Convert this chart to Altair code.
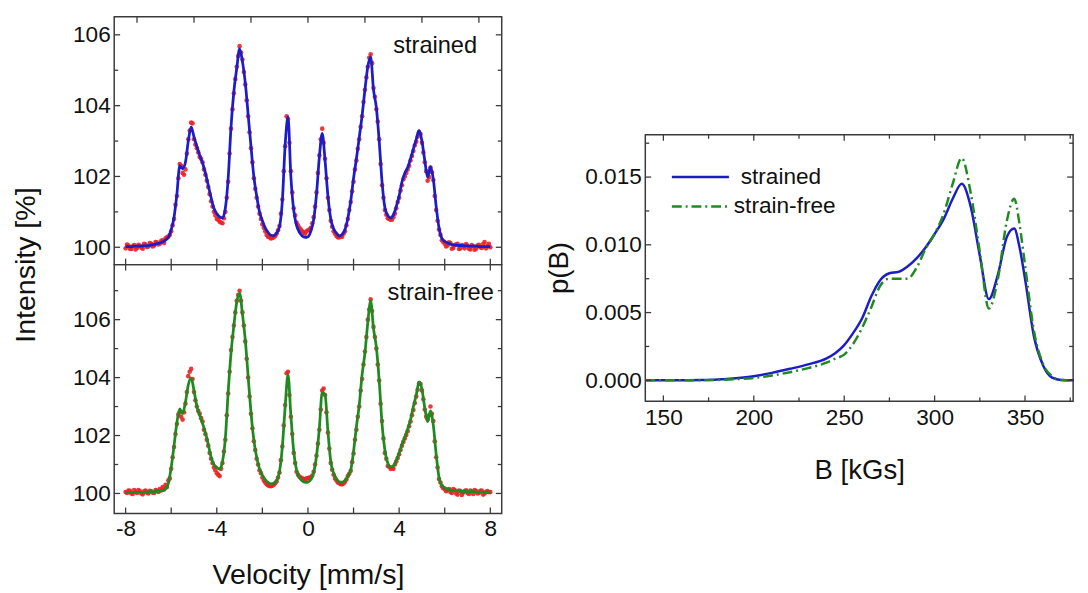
import altair as alt
import pandas as pd

# ---------------- data ----------------
velocity = [
    -8.0, -7.875, -7.75, -7.625, -7.5, -7.375, -7.25, -7.125,
    -7.0, -6.875, -6.75, -6.625, -6.5, -6.375, -6.25, -6.125,
    -6.0, -5.875, -5.75, -5.625, -5.5, -5.375, -5.25, -5.125,
    -5.0, -4.875, -4.75, -4.625, -4.5, -4.375, -4.25, -4.125,
    -4.0, -3.875, -3.75, -3.625, -3.5, -3.375, -3.25, -3.125,
    -3.0, -2.875, -2.75, -2.625, -2.5, -2.375, -2.25, -2.125,
    -2.0, -1.875, -1.75, -1.625, -1.5, -1.375, -1.25, -1.125,
    -1.0, -0.875, -0.75, -0.625, -0.5, -0.375, -0.25, -0.125,
    0.0, 0.125, 0.25, 0.375, 0.5, 0.625, 0.75, 0.875,
    1.0, 1.125, 1.25, 1.375, 1.5, 1.625, 1.75, 1.875,
    2.0, 2.125, 2.25, 2.375, 2.5, 2.625, 2.75, 2.875,
    3.0, 3.125, 3.25, 3.375, 3.5, 3.625, 3.75, 3.875,
    4.0, 4.125, 4.25, 4.375, 4.5, 4.625, 4.75, 4.875,
    5.0, 5.125, 5.25, 5.375, 5.5, 5.625, 5.75, 5.875,
    6.0, 6.125, 6.25, 6.375, 6.5, 6.625, 6.75, 6.875,
    7.0, 7.125, 7.25, 7.375, 7.5, 7.625, 7.75, 7.875,
    8.0,
]

# channels lying between the ones above
velocity_half = [
    -7.9375, -7.8125, -7.6875, -7.5625, -7.4375, -7.3125, -7.1875, -7.0625,
    -6.9375, -6.8125, -6.6875, -6.5625, -6.4375, -6.3125, -6.1875, -6.0625,
    -5.9375, -5.8125, -5.6875, -5.5625, -5.4375, -5.3125, -5.1875, -5.0625,
    -4.9375, -4.8125, -4.6875, -4.5625, -4.4375, -4.3125, -4.1875, -4.0625,
    -3.9375, -3.8125, -3.6875, -3.5625, -3.4375, -3.3125, -3.1875, -3.0625,
    -2.9375, -2.8125, -2.6875, -2.5625, -2.4375, -2.3125, -2.1875, -2.0625,
    -1.9375, -1.8125, -1.6875, -1.5625, -1.4375, -1.3125, -1.1875, -1.0625,
    -0.9375, -0.8125, -0.6875, -0.5625, -0.4375, -0.3125, -0.1875, -0.0625,
    0.0625, 0.1875, 0.3125, 0.4375, 0.5625, 0.6875, 0.8125, 0.9375,
    1.0625, 1.1875, 1.3125, 1.4375, 1.5625, 1.6875, 1.8125, 1.9375,
    2.0625, 2.1875, 2.3125, 2.4375, 2.5625, 2.6875, 2.8125, 2.9375,
    3.0625, 3.1875, 3.3125, 3.4375, 3.5625, 3.6875, 3.8125, 3.9375,
    4.0625, 4.1875, 4.3125, 4.4375, 4.5625, 4.6875, 4.8125, 4.9375,
    5.0625, 5.1875, 5.3125, 5.4375, 5.5625, 5.6875, 5.8125, 5.9375,
    6.0625, 6.1875, 6.3125, 6.4375, 6.5625, 6.6875, 6.8125, 6.9375,
    7.0625, 7.1875, 7.3125, 7.4375, 7.5625, 7.6875, 7.8125, 7.9375,
]

strained_fit = [
    100.02, 100.02, 100.02, 100.03, 100.03, 100.03, 100.04, 100.04,
    100.05, 100.06, 100.08, 100.10, 100.12, 100.15, 100.20, 100.28,
    100.50, 100.85, 101.50, 102.30, 102.22, 102.40, 103.00, 103.40,
    103.12, 102.85, 102.60, 102.38, 102.10, 101.75, 101.40, 101.10,
    100.95, 100.86, 100.83, 101.10, 101.95, 103.40, 104.40, 105.05,
    105.60, 105.25, 104.65, 103.75, 102.85, 102.00, 101.45, 101.00,
    100.75, 100.55, 100.42, 100.34, 100.33, 100.40, 100.58, 101.30,
    102.90, 103.68, 102.00, 101.05, 100.62, 100.42, 100.32, 100.28,
    100.30, 100.45, 100.78, 101.50, 102.55, 103.22, 102.45, 101.45,
    100.80, 100.52, 100.40, 100.32, 100.36, 100.50, 100.82, 101.30,
    101.95, 102.50, 103.10, 103.72, 104.45, 105.10, 105.38, 104.45,
    103.95, 103.00, 101.85, 101.12, 100.90, 100.83, 100.92, 101.15,
    101.45, 101.85, 102.10, 102.25, 102.50, 102.78, 103.05, 103.30,
    103.00, 102.45, 101.98, 102.28, 101.92, 101.15, 100.55, 100.25,
    100.17, 100.12, 100.09, 100.07, 100.06, 100.05, 100.05, 100.04,
    100.04, 100.03, 100.03, 100.03, 100.02, 100.02, 100.02, 100.02,
    100.02,
]

strained_data = [
    99.97, 100.05, 99.95, 100.06, 99.98, 100.04, 99.96, 100.08,
    100.02, 100.10, 100.05, 100.14, 100.10, 100.20, 100.25, 100.30,
    100.45, 100.80, 101.45, 102.35, 102.10, 102.20, 103.05, 103.52,
    103.05, 102.80, 102.55, 102.40, 102.05, 101.70, 101.30, 101.00,
    100.80, 100.72, 100.68, 101.00, 101.85, 103.35, 104.35, 105.10,
    105.68, 105.30, 104.60, 103.70, 102.80, 101.95, 101.40, 100.95,
    100.65, 100.45, 100.30, 100.25, 100.28, 100.38, 100.60, 101.35,
    102.85, 103.62, 102.15, 101.10, 100.70, 100.55, 100.45, 100.38,
    100.48, 100.55, 100.85, 101.55, 102.60, 103.35, 102.50, 101.40,
    100.75, 100.45, 100.32, 100.28, 100.30, 100.45, 100.80, 101.28,
    101.85, 102.45, 103.05, 103.70, 104.45, 105.10, 105.45, 104.50,
    103.90, 103.05, 101.75, 101.05, 100.82, 100.78, 100.85, 101.10,
    101.40, 101.75, 102.00, 102.20, 102.45, 102.72, 102.98, 103.25,
    102.95, 102.40, 101.88, 102.25, 101.90, 101.05, 100.50, 100.20,
    100.10, 100.05, 100.12, 99.98, 100.08, 99.95, 100.06, 99.97,
    100.05, 99.94, 100.03, 99.96, 100.07, 99.98, 100.15, 100.04,
    100.00,
]

strained_data_half = [
    100.08, 99.96, 100.03, 99.94, 100.07, 99.99, 100.10, 100.01,
    100.12, 100.02, 100.15, 100.08, 100.18, 100.12, 100.28, 100.35,
    100.62, 101.20, 101.95, 102.30, 102.05, 102.65, 103.30, 103.50,
    102.90, 102.68, 102.50, 102.20, 101.88, 101.50, 101.15, 100.90,
    100.78, 100.70, 100.82, 101.40, 102.65, 103.90, 104.75, 105.40,
    105.50, 104.95, 104.15, 103.25, 102.40, 101.65, 101.15, 100.80,
    100.55, 100.35, 100.28, 100.26, 100.32, 100.48, 100.95, 102.15,
    103.70, 102.95, 101.55, 100.90, 100.62, 100.50, 100.42, 100.45,
    100.50, 100.68, 101.15, 102.10, 103.05, 102.95, 101.95, 101.05,
    100.58, 100.38, 100.28, 100.30, 100.38, 100.62, 101.05, 101.58,
    102.20, 102.78, 103.40, 104.10, 104.80, 105.35, 105.20, 104.25,
    103.55, 102.35, 101.40, 100.92, 100.80, 100.78, 100.95, 101.28,
    101.60, 101.92, 102.10, 102.30, 102.58, 102.88, 103.12, 103.20,
    102.68, 102.15, 101.98, 102.12, 101.45, 100.75, 100.35, 100.15,
    100.02, 100.14, 99.96, 100.06, 100.10, 99.97, 100.04, 100.09,
    99.96, 100.06, 99.93, 100.05, 100.00, 100.09, 99.97, 100.10,
]

strainfree_fit = [
    100.03, 100.03, 100.03, 100.03, 100.04, 100.04, 100.04, 100.05,
    100.05, 100.06, 100.06, 100.07, 100.08, 100.10, 100.15, 100.35,
    100.90, 101.65, 102.45, 102.92, 102.76, 103.15, 103.75, 103.98,
    103.55, 103.02, 102.70, 102.42, 102.10, 101.70, 101.25, 101.00,
    100.90, 100.84, 101.10, 101.90, 103.50, 104.85, 105.80, 106.60,
    106.92, 106.20, 105.30, 104.05, 102.80, 101.85, 101.25, 100.85,
    100.63, 100.48, 100.38, 100.33, 100.35, 100.45, 100.75, 101.60,
    103.00, 104.10, 102.70, 101.45, 100.80, 100.55, 100.43, 100.38,
    100.39, 100.48, 100.72, 101.30, 102.25, 103.50, 103.40, 102.15,
    101.10, 100.70, 100.50, 100.40, 100.39, 100.45, 100.60, 100.80,
    101.45, 102.30, 103.05, 104.10, 104.85, 105.90, 106.65, 105.70,
    105.05, 103.90, 102.40, 101.50, 101.05, 100.92, 100.95, 101.15,
    101.40, 101.70, 101.95, 102.22, 102.55, 103.00, 103.40, 103.85,
    103.60, 102.95, 102.48, 102.85, 102.35, 101.35, 100.55, 100.28,
    100.20, 100.15, 100.12, 100.10, 100.09, 100.08, 100.07, 100.07,
    100.06, 100.06, 100.06, 100.05, 100.05, 100.05, 100.05, 100.05,
    100.05,
]

strainfree_data = [
    100.05, 100.10, 100.00, 100.12, 100.02, 100.08, 99.97, 100.10,
    100.00, 100.07, 100.02, 100.10, 100.15, 100.22, 100.30, 100.45,
    100.85, 101.60, 102.40, 102.80, 102.55, 103.10, 104.05, 104.30,
    103.50, 103.00, 102.75, 102.48, 102.05, 101.65, 101.20, 100.90,
    100.70, 100.60, 101.05, 101.85, 103.45, 104.95, 105.80, 106.65,
    107.00, 106.25, 105.25, 104.00, 102.75, 101.80, 101.20, 100.80,
    100.55, 100.38, 100.28, 100.25, 100.30, 100.42, 100.72, 101.62,
    103.05, 104.20, 102.65, 101.40, 100.75, 100.58, 100.52, 100.48,
    100.52, 100.55, 100.75, 101.30, 102.20, 103.55, 103.40, 102.10,
    101.05, 100.65, 100.45, 100.35, 100.32, 100.40, 100.60, 100.78,
    101.38, 102.20, 103.00, 103.95, 104.90, 106.00, 106.70, 105.75,
    105.00, 103.90, 102.50, 101.40, 100.95, 100.85, 100.85, 101.10,
    101.35, 101.65, 101.90, 102.15, 102.48, 102.88, 103.35, 103.80,
    103.55, 102.90, 102.55, 103.00, 102.50, 101.25, 100.50, 100.25,
    100.15, 100.12, 100.05, 100.15, 100.00, 100.10, 99.95, 100.08,
    100.02, 100.10, 99.98, 100.08, 100.02, 100.10, 100.00, 100.08,
    100.05,
]

strainfree_data_half = [
    100.02, 100.09, 99.98, 100.06, 100.12, 100.00, 100.07, 100.03,
    100.09, 100.03, 100.12, 100.05, 100.10, 100.14, 100.22, 100.52,
    101.25, 102.05, 102.72, 102.65, 102.80, 103.50, 104.20, 103.95,
    103.22, 102.85, 102.60, 102.20, 101.85, 101.40, 101.05, 100.80,
    100.65, 100.85, 101.45, 102.70, 104.20, 105.40, 106.25, 106.85,
    106.65, 105.80, 104.65, 103.35, 102.25, 101.50, 101.00, 100.70,
    100.45, 100.32, 100.26, 100.27, 100.35, 100.55, 101.15, 102.35,
    104.15, 103.40, 102.05, 101.05, 100.65, 100.55, 100.50, 100.52,
    100.55, 100.62, 101.00, 101.72, 102.90, 103.62, 102.80, 101.55,
    100.82, 100.52, 100.38, 100.32, 100.34, 100.48, 100.68, 101.08,
    101.85, 102.65, 103.55, 104.45, 105.40, 106.35, 106.30, 105.40,
    104.45, 103.10, 101.90, 101.20, 100.92, 100.88, 101.00, 101.22,
    101.50, 101.78, 102.02, 102.32, 102.70, 103.12, 103.58, 103.78,
    103.25, 102.65, 102.70, 102.75, 101.80, 100.90, 100.38, 100.18,
    100.08, 100.15, 100.02, 100.12, 99.96, 100.08, 100.03, 100.11,
    99.98, 100.07, 100.12, 100.00, 100.09, 99.96, 100.06, 100.04,
]

b_field = [140, 150, 160, 170, 180, 190, 200, 210, 220, 230,
           240, 245, 250, 255, 260, 265, 270, 275, 280, 285,
           290, 295, 300, 305, 310, 315, 320, 325, 330, 335,
           340, 344, 347, 350, 355, 360, 365, 370, 377]
pb_strained = [0, 0, 0, 0.00002, 0.00006, 0.00015, 0.0003, 0.00055, 0.00085, 0.00118,
               0.0016, 0.0020, 0.0026, 0.0035, 0.0046, 0.0062, 0.0074, 0.0079, 0.0080, 0.0084,
               0.0090, 0.0098, 0.0108, 0.0119, 0.0134, 0.0145, 0.0128, 0.0092, 0.0060, 0.0078,
               0.0106, 0.0112, 0.0098, 0.0075, 0.0032, 0.0011, 0.0002, 0.00002, 0]
pb_strainfree = [0, 0, 0, 0.00001, 0.00003, 0.00008, 0.00017, 0.00035, 0.0006, 0.0009,
                 0.0013, 0.0016, 0.0019, 0.0027, 0.0039, 0.0054, 0.0070, 0.0075, 0.0075, 0.0075,
                 0.0083, 0.0097, 0.0108, 0.0123, 0.0145, 0.0164, 0.0138, 0.0095, 0.0053, 0.0075,
                 0.0118, 0.0134, 0.0115, 0.0085, 0.0036, 0.0012, 0.0003, 0.00002, 0]

panel_labels = ["strained", "strain-free"]
legend_labels = ["strained", "strain-free"]

# tick values
vel_labels = [-8, -4, 0, 4, 8]
vel_minor = [-6, -2, 2, 6]
vel_top_ticks = [-7.5, -5, -2.5, 0, 2.5, 5, 7.5]
int_labels = [100, 102, 104, 106]
int_minor_top = [101, 103, 105]
int_minor_bot = [101, 103, 105, 107]
b_labels = [150, 200, 250, 300, 350]
b_minor = [175, 225, 275, 325, 375]
p_labels = [0.0, 0.005, 0.010, 0.015]
p_minor = [0.0025, 0.0075, 0.0125, 0.0175]

# ---------------- styling ----------------
RED = "#ea2226"
BLUE = "#1c1cc8"
GREEN = "#1f8a1f"
FRAME = "#3a3a3a"
INK = "#111111"
FONT = "Liberation Sans"
DASHDOT = [10, 4, 2, 4]

LW, TOP_H, BOT_H = 394, 252, 253
RW, RH = 435, 271


def ticks(xf, yf, X, Y, W, H, top, bottom, left, right):
    layers = []
    for vals, ln in top:
        layers.append(alt.Chart(pd.DataFrame({xf: vals})).mark_rule(color=FRAME, strokeWidth=1.3)
                      .encode(x=X, y=alt.value(0), y2=alt.value(ln)))
    for vals, ln in bottom:
        layers.append(alt.Chart(pd.DataFrame({xf: vals})).mark_rule(color=FRAME, strokeWidth=1.3)
                      .encode(x=X, y=alt.value(H), y2=alt.value(H - ln)))
    for vals, ln in left:
        layers.append(alt.Chart(pd.DataFrame({yf: vals})).mark_rule(color=FRAME, strokeWidth=1.3)
                      .encode(y=Y, x=alt.value(0), x2=alt.value(ln)))
    for vals, ln in right:
        layers.append(alt.Chart(pd.DataFrame({yf: vals})).mark_rule(color=FRAME, strokeWidth=1.3)
                      .encode(y=Y, x=alt.value(W), x2=alt.value(W - ln)))
    return layers


vel_scale = alt.Scale(domain=[-8.5, 8.5], nice=False, zero=False)

# ---- top panel (strained) ----
X_top = alt.X("v:Q", scale=vel_scale, axis=None)
Y_top = alt.Y("I:Q", scale=alt.Scale(domain=[99.51, 106.51], nice=False, zero=False),
              axis=alt.Axis(values=int_labels, title="Intensity [%]", titleX=-81, titleY=252,
                            titleAngle=270, titleAlign="center", titleBaseline="alphabetic",
                            titleFontSize=29, labelPadding=4, ticks=False, tickSize=0,
                            domain=False, grid=False))

top_pts = alt.Chart(pd.DataFrame({"v": velocity + velocity_half,
                                  "I": strained_data + strained_data_half})).mark_circle(
    size=22, color=RED, opacity=0.9).encode(x=X_top, y=Y_top)
top_fit = alt.Chart(pd.DataFrame({"v": velocity, "I": strained_fit})).mark_line(
    color=BLUE, strokeWidth=2.8, interpolate="monotone").encode(x=X_top, y=Y_top)
top_txt = alt.Chart(pd.DataFrame({"t": [panel_labels[0]]})).mark_text(
    align="right", baseline="alphabetic", fontSize=24, font=FONT, color=INK).encode(
    text="t:N", x=alt.value(369), y=alt.value(37))
top = alt.layer(top_pts, top_fit,
                *ticks("v", "I", X_top, Y_top, LW, TOP_H,
                       top=[(vel_top_ticks, 6)],
                       bottom=[(vel_labels, 6), (vel_minor, 6)],
                       left=[(int_labels, 6), (int_minor_top, 4)],
                       right=[(int_labels, 6), (int_minor_top, 4)]),
                top_txt).properties(width=LW, height=TOP_H)

# ---- bottom panel (strain-free) ----
X_bot = alt.X("v:Q", scale=vel_scale,
              axis=alt.Axis(values=vel_labels, labelExpr="'' + datum.value", title="Velocity [mm/s]",
                            titleFontSize=29, titleY=71, titleBaseline="alphabetic",
                            labelPadding=4, ticks=False, tickSize=0, domain=False, grid=False))
Y_bot = alt.Y("I:Q", scale=alt.Scale(domain=[99.31, 107.9], nice=False, zero=False),
              axis=alt.Axis(values=int_labels, title=None, labelPadding=4, ticks=False,
                            tickSize=0, domain=False, grid=False))

bot_pts = alt.Chart(pd.DataFrame({"v": velocity + velocity_half,
                                  "I": strainfree_data + strainfree_data_half})).mark_circle(
    size=22, color=RED, opacity=0.9).encode(x=X_bot, y=Y_bot)
bot_fit = alt.Chart(pd.DataFrame({"v": velocity, "I": strainfree_fit})).mark_line(
    color=GREEN, strokeWidth=2.8, interpolate="monotone").encode(x=X_bot, y=Y_bot)
bot_txt = alt.Chart(pd.DataFrame({"t": [panel_labels[1]]})).mark_text(
    align="right", baseline="alphabetic", fontSize=24, font=FONT, color=INK).encode(
    text="t:N", x=alt.value(386), y=alt.value(36))
bottom = alt.layer(bot_pts, bot_fit,
                   *ticks("v", "I", X_bot, Y_bot, LW, BOT_H,
                          top=[(vel_labels, 6), (vel_minor, 6)],
                          bottom=[(vel_labels, 6), (vel_minor, 6)],
                          left=[(int_labels, 6), (int_minor_bot, 4)],
                          right=[(int_labels, 6), (int_minor_bot, 4)]),
                   bot_txt).properties(width=LW, height=BOT_H)

left_col = alt.vconcat(top, bottom, spacing=0, bounds="flush")

# ---- right panel p(B) ----
X_r = alt.X("B:Q", scale=alt.Scale(domain=[140, 376.6], nice=False, zero=False),
            axis=alt.Axis(values=b_labels, title="B [kGs]", titleFontSize=28, titleY=78,
                          titleBaseline="alphabetic", labelPadding=6, ticks=False, tickSize=0,
                          domain=False, grid=False))
Y_r = alt.Y("p:Q", scale=alt.Scale(domain=[-0.00155, 0.01812], nice=False, zero=False),
            axis=alt.Axis(values=p_labels, format=".3f", title="p(B)", titleFontSize=28,
                          titleX=-79, titleY=135, titleAngle=270, titleAlign="center",
                          titleBaseline="alphabetic", labelPadding=4, ticks=False, tickSize=0,
                          domain=False, grid=False))

r_blue = alt.Chart(pd.DataFrame({"B": b_field, "p": pb_strained})).mark_line(
    color=BLUE, strokeWidth=2.5, interpolate="monotone").encode(x=X_r, y=Y_r)
r_green = alt.Chart(pd.DataFrame({"B": b_field, "p": pb_strainfree})).mark_line(
    color=GREEN, strokeWidth=2.5, strokeDash=DASHDOT, interpolate="monotone").encode(x=X_r, y=Y_r)
leg_blue = alt.Chart(pd.DataFrame({"t": [legend_labels[0]]})).mark_rule(
    color=BLUE, strokeWidth=2.5).encode(x=alt.value(27), x2=alt.value(85), y=alt.value(43))
leg_green = alt.Chart(pd.DataFrame({"t": [legend_labels[1]]})).mark_rule(
    color=GREEN, strokeWidth=2.5, strokeDash=DASHDOT).encode(x=alt.value(27), x2=alt.value(85), y=alt.value(73))
leg_t1 = alt.Chart(pd.DataFrame({"t": [legend_labels[0]]})).mark_text(
    align="left", baseline="middle", fontSize=23, font=FONT, color=INK).encode(
    text="t:N", x=alt.value(97), y=alt.value(43))
leg_t2 = alt.Chart(pd.DataFrame({"t": [legend_labels[1]]})).mark_text(
    align="left", baseline="middle", fontSize=23, font=FONT, color=INK).encode(
    text="t:N", x=alt.value(90), y=alt.value(73))

right = alt.layer(r_blue, r_green,
                  *ticks("B", "p", X_r, Y_r, RW, RH,
                         top=[(b_labels, 6), (b_minor, 4)],
                         bottom=[(b_labels, 6), (b_minor, 4)],
                         left=[(p_labels, 6), (p_minor, 4)],
                         right=[(p_labels, 6), (p_minor, 4)]),
                  leg_blue, leg_green, leg_t1, leg_t2).properties(width=RW, height=RH)

spacer = alt.Chart(pd.DataFrame({"t": [0]})).mark_rule(opacity=0).encode(
    x=alt.value(1), y=alt.value(1), y2=alt.value(2)).properties(
    width=RW, height=117, view=alt.ViewBackground(stroke="transparent"))

right_col = alt.vconcat(spacer, right, spacing=0)

chart = alt.hconcat(left_col, right_col, spacing=42).properties(
    padding={"left": 3, "top": 2, "right": 0, "bottom": 0}
).configure(font=FONT).configure_view(
    stroke=FRAME, strokeWidth=1.5
).configure_axis(
    labelFontSize=23, labelColor=INK, titleColor=INK, titleFontWeight="normal",
    labelFont=FONT, titleFont=FONT
)

chart.save("out.html", embed_options={"renderer": "svg", "actions": False})
